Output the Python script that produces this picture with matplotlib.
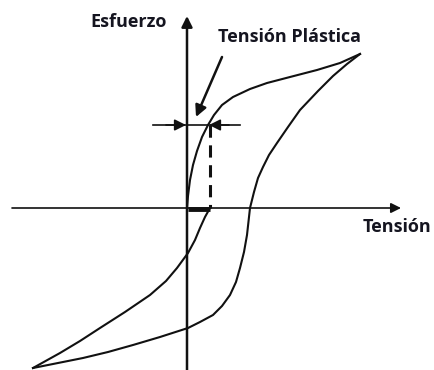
import matplotlib.pyplot as plt

# curve points (pixel coords, y downwards)
upper_x = [187, 188, 190, 193, 197, 202, 208, 214, 222, 233, 250, 267, 290, 317, 340, 360]
upper_y = [208, 196, 180, 165, 151, 137, 125, 115, 105, 97, 89, 83, 77, 70, 63, 54]

unload_x = [360, 347, 333, 318, 300, 288, 277, 269, 263, 258, 254, 250, 247, 244, 240, 236, 230, 222, 213, 200, 188, 160, 133, 108, 83, 58, 33]
unload_y = [54, 64, 76, 91, 110, 127, 143, 155, 167, 178, 192, 208, 235, 252, 268, 282, 295, 306, 315, 322, 328, 337, 345, 352, 358, 363, 368]

reload_x = [33, 60, 80, 100, 125, 150, 166, 177, 188, 195, 200, 205, 210]
reload_y = [368, 353, 341, 328, 312, 295, 281, 268, 253, 240, 228, 217, 208]

label_y = "Esfuerzo"
label_x = "Tensión"
label_plastic = "Tensión Plástica"

fig = plt.figure(figsize=(4.35, 3.7), dpi=100)
ax = fig.add_axes([0, 0, 1, 1])
ax.set_xlim(0, 435)
ax.set_ylim(370, 0)
ax.axis("off")

ink = "#111111"

# axes with arrows
ax.annotate("", xy=(187, 16), xytext=(187, 372),
            arrowprops=dict(arrowstyle="-|>", lw=1.8, color=ink, mutation_scale=16,
                            shrinkA=0, shrinkB=0))
ax.annotate("", xy=(401, 208), xytext=(12, 208),
            arrowprops=dict(arrowstyle="-|>", lw=1.2, color=ink, mutation_scale=15,
                            shrinkA=0, shrinkB=0))

# hysteresis loop
ax.plot(upper_x, upper_y, color=ink, lw=1.5)
ax.plot(unload_x, unload_y, color=ink, lw=1.5)
ax.plot(reload_x, reload_y, color=ink, lw=1.5)

# plastic strain marker
ax.plot([153, 240], [125, 125], color=ink, lw=1.2)
ax.annotate("", xy=(186, 125), xytext=(166, 125),
            arrowprops=dict(arrowstyle="-|>", lw=1.2, color=ink, mutation_scale=17,
                            shrinkA=0, shrinkB=0))
ax.annotate("", xy=(209, 125), xytext=(229, 125),
            arrowprops=dict(arrowstyle="-|>", lw=1.2, color=ink, mutation_scale=17,
                            shrinkA=0, shrinkB=0))
ax.plot([210, 210], [125, 208], color=ink, lw=2.2, linestyle=(0, (4, 2.5)))
ax.plot([188, 210], [209, 209], color=ink, lw=3.5, solid_capstyle="butt")

# arrow pointing at the plastic point
ax.annotate("", xy=(196, 117), xytext=(222, 57),
            arrowprops=dict(arrowstyle="-|>", lw=1.8, color=ink, mutation_scale=17,
                            shrinkA=0, shrinkB=0))

font = dict(family=["Open Sans", "DejaVu Sans"], weight="bold", fontsize=13, color="#151520")
ax.text(129, 22, label_y, ha="center", va="center", **font)
ax.text(290, 37, label_plastic, ha="center", va="center", **font)
ax.text(397, 227, label_x, ha="center", va="center", **font)

fig.savefig("out.png", dpi=100)
